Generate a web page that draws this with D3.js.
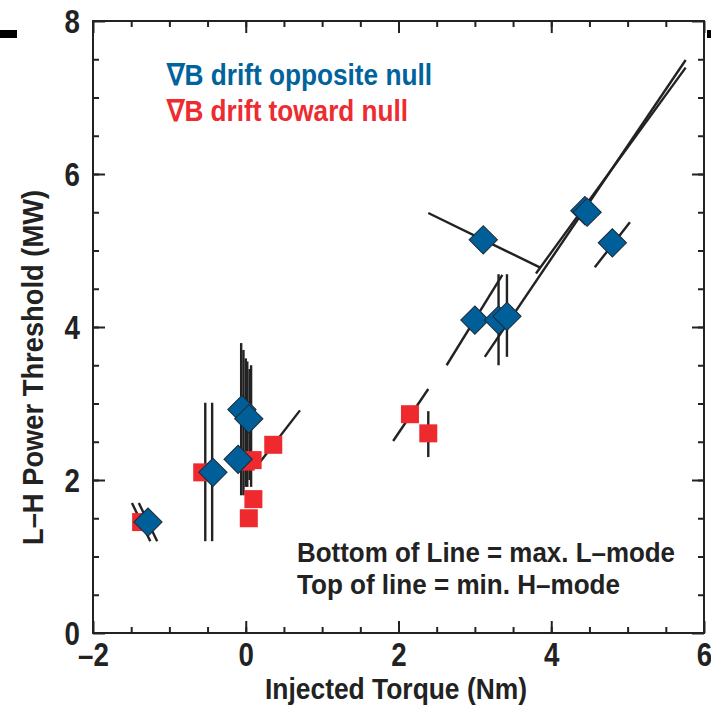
<!DOCTYPE html>
<html>
<head>
<meta charset="utf-8">
<title>L-H Power Threshold</title>
<style>
  body { margin: 0; background: #fff; }
  text { font-family: "Liberation Sans Narrow", "Arial Narrow", "Liberation Sans", Arial, sans-serif; font-weight: bold; }
</style>
</head>
<body>
<script src="https://cdn.jsdelivr.net/npm/d3@7"></script>
<script>
// points: grad-B drift opposite the null (blue diamonds)
var blueX = [-1.28, -0.43, -0.05, 0.04, -0.10, 3.00, 3.31, 3.42, 3.11, 4.44, 4.47, 4.80];
var blueY = [1.45, 2.10, 2.92, 2.80, 2.27, 4.09, 4.09, 4.14, 5.14, 5.52, 5.50, 5.10];
// line ends: lo = max. L-mode, hi = min. H-mode
var blueLoX = [-1.16, -0.44, -0.06, -0.03, 0.00, 2.63, 3.31, 3.42, 3.85, 3.13, 3.80, 4.57];
var blueLoY = [1.20, 1.20, 1.80, 1.80, 1.91, 3.50, 3.50, 3.61, 4.78, 3.61, 4.70, 4.78];
var blueHiX = [-1.40, -0.44, -0.06, -0.03, 0.00, 3.36, 3.31, 3.42, 2.39, 5.76, 5.76, 5.03];
var blueHiY = [1.70, 3.01, 3.79, 3.70, 3.59, 4.68, 4.69, 4.69, 5.49, 7.49, 7.39, 5.37];

// points: grad-B drift toward the null (red squares)
var redX = [-1.37, -0.57, 0.00, 0.09, 0.36, 0.10, 0.04, 2.15, 2.39];
var redY = [1.45, 2.10, 2.24, 2.26, 2.46, 1.75, 1.50, 2.86, 2.61];
var redLoX = [-1.25, -0.53, 0.02, 0.05, 0.19, 0.07, null, 1.93, 2.39];
var redLoY = [1.20, 1.20, 1.91, 2.00, 2.24, 1.91, null, 2.51, 2.30];
var redHiX = [-1.49, -0.53, 0.02, 0.05, 0.71, 0.07, null, 2.39, 2.39];
var redHiY = [1.70, 3.01, 3.55, 3.45, 2.91, 3.50, null, 3.19, 2.90];

var xMajor = [-2, 0, 2, 4, 6];
var yMajor = [0, 2, 4, 6, 8];
var xMinor = d3.range(-1.5, 6, 0.5);
var yMinor = d3.range(0.5, 8, 0.5);

var width = 711, height = 706;
var padL = 93, padR = 704, padT = 21, padB = 633;
var squeeze = 0.84;   // condensed look for tick digits

var svg = d3.select("body").append("svg")
    .attr("width", width)
    .attr("height", height);

var x = d3.scaleLinear().domain([-2, 6]).range([padL, padR]);
var y = d3.scaleLinear().domain([0, 8]).range([padB, padT]);

var fmt = function(d){ return d < 0 ? "\u2013" + Math.abs(d) : d; };

// frame
svg.append("rect")
   .attr("x", padL).attr("y", padT)
   .attr("width", padR - padL).attr("height", padB - padT)
   .attr("fill", "none").attr("stroke", "#222").attr("stroke-width", 2);

function ticks(axis, tr) {
    var g = svg.append("g").attr("transform", tr).call(axis);
    g.select(".domain").remove();
    g.selectAll(".tick line").attr("stroke", "#222").attr("stroke-width", 2);
    return g;
}

// bottom
var gx = ticks(d3.axisBottom(x).tickValues(xMajor).tickSize(-12).tickPadding(9).tickFormat(fmt),
      "translate(0," + padB + ")");
gx.selectAll("text").attr("font-size", 33).attr("fill", "#222").attr("dy", "0.72em")
  .attr("font-family", null)
  .attr("transform", "scale(" + squeeze + ",1)");
ticks(d3.axisBottom(x).tickValues(xMinor).tickSize(-6).tickFormat(""), "translate(0," + padB + ")");
// top
ticks(d3.axisTop(x).tickValues(xMajor).tickSize(-12).tickFormat(""), "translate(0," + padT + ")");
ticks(d3.axisTop(x).tickValues(xMinor).tickSize(-6).tickFormat(""), "translate(0," + padT + ")");
// left
var gy = ticks(d3.axisLeft(y).tickValues(yMajor).tickSize(-12).tickPadding(13).tickFormat(fmt),
      "translate(" + padL + ",0)");
gy.selectAll("text").attr("font-size", 33).attr("fill", "#222").attr("dy", "0.34em")
  .attr("font-family", null)
  .attr("x", -13 / squeeze)
  .attr("transform", "scale(" + squeeze + ",1)");
ticks(d3.axisLeft(y).tickValues(yMinor).tickSize(-6).tickFormat(""), "translate(" + padL + ",0)");
// right
ticks(d3.axisRight(y).tickValues(yMajor).tickSize(-12).tickFormat(""), "translate(" + padR + ",0)");
ticks(d3.axisRight(y).tickValues(yMinor).tickSize(-6).tickFormat(""), "translate(" + padR + ",0)");

// threshold lines
function segs(lx, ly, hx, hy) {
    return d3.range(lx.length).filter(function(i){ return lx[i] !== null; })
        .map(function(i){ return [lx[i], ly[i], hx[i], hy[i]]; });
}
var allSegs = segs(redLoX, redLoY, redHiX, redHiY).concat(segs(blueLoX, blueLoY, blueHiX, blueHiY));
svg.append("g").selectAll("line")
   .data(allSegs).enter().append("line")
   .attr("x1", function(d){ return x(d[0]); })
   .attr("y1", function(d){ return y(d[1]); })
   .attr("x2", function(d){ return x(d[2]); })
   .attr("y2", function(d){ return y(d[3]); })
   .attr("stroke", "#222").attr("stroke-width", 2.4);

// red squares
var sq = 18;
svg.append("g").selectAll("rect")
   .data(d3.range(redX.length)).enter().append("rect")
   .attr("x", function(i){ return x(redX[i]) - sq / 2; })
   .attr("y", function(i){ return y(redY[i]) - sq / 2; })
   .attr("width", sq).attr("height", sq)
   .attr("fill", "#ee2a2e");

// blue diamonds
var dsym = d3.symbol().type(d3.symbolSquare).size(20 * 20);
svg.append("g").selectAll("path")
   .data(d3.range(blueX.length)).enter().append("path")
   .attr("d", dsym)
   .attr("transform", function(i){ return "translate(" + x(blueX[i]) + "," + y(blueY[i]) + ") rotate(45)"; })
   .attr("fill", "#005f98").attr("stroke", "#1c2b3a").attr("stroke-width", 1);

// legend
svg.append("text").attr("x", 167).attr("y", 85)
   .attr("font-size", 30).attr("fill", "#00639c")
   .attr("textLength", 265).attr("lengthAdjust", "spacingAndGlyphs")
   .text("\u2207B drift opposite null");
svg.append("text").attr("x", 167).attr("y", 121)
   .attr("font-size", 30).attr("fill", "#ee2b30")
   .attr("textLength", 241).attr("lengthAdjust", "spacingAndGlyphs")
   .text("\u2207B drift toward null");

// note
svg.append("text").attr("x", 297).attr("y", 562)
   .attr("font-size", 27).attr("fill", "#222")
   .attr("textLength", 378).attr("lengthAdjust", "spacingAndGlyphs")
   .text("Bottom of Line = max. L\u2013mode");
svg.append("text").attr("x", 297).attr("y", 594)
   .attr("font-size", 27).attr("fill", "#222")
   .attr("textLength", 323).attr("lengthAdjust", "spacingAndGlyphs")
   .text("Top of line = min. H\u2013mode");

// axis titles
svg.append("text").attr("x", 265).attr("y", 699)
   .attr("font-size", 30).attr("fill", "#222")
   .attr("textLength", 262).attr("lengthAdjust", "spacingAndGlyphs")
   .text("Injected Torque (Nm)");
svg.append("text")
   .attr("transform", "translate(43,545) rotate(-90)")
   .attr("font-size", 30).attr("fill", "#222")
   .attr("textLength", 355).attr("lengthAdjust", "spacingAndGlyphs")
   .text("L\u2013H Power Threshold (MW)");

// scan marks on the original
svg.append("rect").attr("x", 0).attr("y", 30).attr("width", 17).attr("height", 8).attr("fill", "#000");
svg.append("rect").attr("x", 707).attr("y", 30).attr("width", 4).attr("height", 8).attr("fill", "#000");
</script>
</body>
</html>
